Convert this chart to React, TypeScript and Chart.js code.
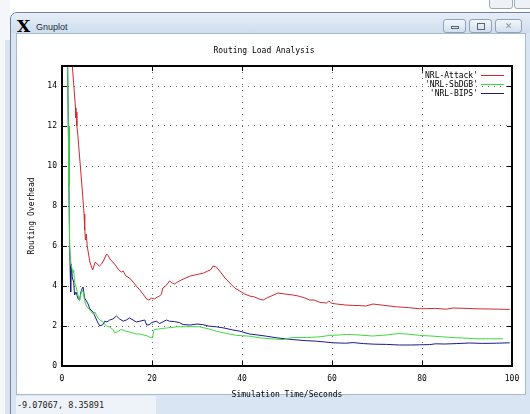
import React, { useEffect, useRef } from 'react';
import { Chart, registerables } from 'chart.js';

Chart.register(...registerables);

const MONO = "'DejaVu Sans Mono', monospace";

const chartTitle = 'Routing Load Analysis';
const xAxisTitle = 'Simulation Time/Seconds';
const yAxisTitle = 'Routing Overhead';
const statusText = '-9.07067, 8.35891';

const xTicks = [0, 20, 40, 60, 80, 100];
const yTicks = [0, 2, 4, 6, 8, 10, 12, 14];

const seriesLabels = ["'NRL-Attack'", "'NRL-SbDGB'", "'NRL-BIPS'"];
const seriesColors = ['#cc2a2e', '#40d840', '#1a1a8c'];

const attackX = [1.8, 2.3, 2.8, 3.0, 3.1, 3.2, 3.3, 3.5, 4.0, 4.5, 4.9, 5.0, 5.1, 5.2, 5.4, 5.6, 5.9, 6.2, 6.5, 6.8, 7.1, 7.4, 7.8, 8.3, 8.8, 9.3, 9.9, 10.3, 10.8, 11.3, 12.0, 12.6, 13.2, 13.6, 14.2, 15.0, 15.8, 16.5, 17.3, 18.0, 18.8, 19.3, 19.9, 20.5, 21.2, 21.7, 22.1, 22.4, 22.8, 23.4, 23.9, 24.5, 25.0, 25.7, 26.5, 27.5, 28.5, 29.5, 30.5, 31.5, 32.4, 33.0, 33.6, 34.3, 35.2, 36.2, 37.3, 38.4, 39.5, 40.6, 41.7, 42.8, 43.8, 44.7, 45.5, 46.5, 48.0, 49.5, 51.3, 52.5, 54.0, 55.0, 56.0, 57.3, 58.8, 59.3, 60.0, 61.0, 63.0, 64.7, 66.0, 67.5, 69.1, 72.0, 74.3, 77.0, 79.5, 81.0, 83.0, 85.4, 86.9, 90.0, 92.0, 95.0, 97.0, 99.5];
const attackY = [16.8, 15.0, 13.5, 12.9, 12.4, 12.7, 12.0, 11.6, 10.2, 8.8, 7.6, 6.8, 6.9, 6.3, 6.6, 6.0, 5.6, 5.2, 5.0, 4.8, 5.0, 5.2, 5.1, 5.0, 5.1, 5.3, 5.6, 5.5, 5.3, 5.2, 5.0, 4.8, 4.7, 4.75, 4.5, 4.4, 4.2, 4.0, 3.8, 3.6, 3.35, 3.3, 3.4, 3.35, 3.45, 3.5, 3.6, 3.9, 3.95, 4.1, 4.25, 4.15, 4.1, 4.2, 4.3, 4.4, 4.5, 4.55, 4.6, 4.65, 4.75, 4.8, 5.0, 4.95, 4.7, 4.4, 4.15, 3.9, 3.75, 3.6, 3.5, 3.45, 3.35, 3.3, 3.4, 3.5, 3.65, 3.6, 3.55, 3.5, 3.4, 3.3, 3.3, 3.18, 3.15, 3.25, 3.13, 3.1, 3.05, 3.03, 3.02, 3.0, 3.1, 3.02, 2.96, 2.92, 2.86, 2.87, 2.88, 2.84, 2.9, 2.88, 2.86, 2.85, 2.84, 2.83];

const sbdgbX = [1.2, 1.4, 1.55, 1.7, 1.9, 2.1, 2.4, 2.6, 2.8, 3.2, 3.6, 3.9, 4.2, 4.5, 4.7, 5.0, 5.4, 6.0, 6.9, 7.3, 8.0, 8.4, 9.1, 9.9, 10.6, 11.3, 11.7, 12.4, 13.1, 14.1, 15.0, 15.8, 16.5, 17.3, 18.0, 19.0, 19.5, 20.1, 20.4, 20.6, 21.5, 22.4, 23.2, 24.1, 25.5, 26.9, 28.5, 30.6, 32.5, 34.3, 36.5, 38.8, 41.7, 43.9, 46.5, 49.1, 50.6, 52.0, 54.3, 56.5, 57.3, 59.5, 61.5, 63.2, 66.0, 69.0, 72.0, 74.7, 76.5, 79.5, 82.0, 86.9, 90.0, 92.0, 95.0, 98.0];
const sbdgbY = [16.0, 12.0, 9.0, 6.0, 5.3, 5.0, 4.65, 4.8, 4.2, 3.9, 3.5, 3.25, 3.6, 3.8, 3.7, 3.3, 3.0, 2.85, 2.6, 2.7, 2.4, 2.3, 2.2, 2.0, 1.95, 1.83, 1.67, 1.72, 1.83, 1.75, 1.7, 1.65, 1.6, 1.6, 1.56, 1.5, 1.44, 1.4, 1.8, 1.83, 1.85, 1.88, 1.9, 1.92, 1.96, 1.96, 1.97, 1.96, 1.86, 1.74, 1.63, 1.53, 1.49, 1.41, 1.36, 1.32, 1.4, 1.43, 1.42, 1.45, 1.46, 1.53, 1.55, 1.58, 1.55, 1.5, 1.55, 1.62, 1.6, 1.53, 1.5, 1.42, 1.39, 1.36, 1.36, 1.36];

const bipsX = [1.2, 1.4, 1.55, 1.7, 1.8, 1.9, 1.95, 2.05, 2.3, 2.6, 2.8, 3.1, 3.6, 3.9, 4.2, 4.5, 4.7, 5.0, 5.3, 5.8, 6.2, 6.9, 7.3, 8.0, 8.4, 9.1, 9.5, 10.0, 10.6, 11.3, 12.1, 12.8, 13.6, 14.3, 15.0, 15.8, 16.5, 17.3, 18.4, 18.8, 19.5, 19.9, 21.0, 21.7, 23.2, 23.9, 25.0, 26.1, 26.9, 28.5, 30.0, 31.3, 32.5, 34.3, 36.0, 38.0, 39.5, 41.7, 43.5, 45.4, 48.0, 51.3, 54.0, 56.5, 58.5, 60.2, 63.0, 64.7, 67.0, 69.5, 72.1, 75.0, 77.5, 79.5, 81.7, 83.0, 85.0, 87.6, 90.6, 93.5, 96.5, 99.5];
const bipsY = [16.0, 12.0, 9.0, 5.8, 5.0, 3.9, 3.7, 5.1, 4.4, 4.2, 3.55, 3.7, 3.35, 3.3, 3.7, 3.9, 3.95, 3.4, 3.3, 3.1, 2.85, 2.7, 2.5, 2.15, 2.0, 2.07, 2.24, 2.2, 2.3, 2.35, 2.5, 2.35, 2.24, 2.3, 2.4, 2.3, 2.2, 2.24, 2.3, 2.05, 2.07, 2.17, 2.24, 2.12, 2.3, 2.24, 2.22, 2.17, 2.07, 2.05, 2.1, 2.07, 2.0, 1.96, 1.9, 1.8, 1.74, 1.6, 1.55, 1.49, 1.4, 1.32, 1.27, 1.24, 1.2, 1.16, 1.14, 1.17, 1.12, 1.09, 1.08, 1.05, 1.05, 1.06, 1.07, 1.11, 1.1, 1.12, 1.15, 1.13, 1.14, 1.16];

const toPoints = (xs: number[], ys: number[]) => xs.map((x, i) => ({ x, y: ys[i] }));

const framePlugin = {
  id: 'gnuplotFrame',
  afterDraw(chart: any) {
    const { ctx, chartArea } = chart;
    const { left, right, top, bottom } = chartArea;
    const xs = chart.scales.x;
    const ys = chart.scales.y;
    ctx.save();
    ctx.strokeStyle = '#000';
    ctx.lineWidth = 1;
    ctx.beginPath();
    xTicks.forEach((v) => {
      const px = Math.round(xs.getPixelForValue(v)) + 0.5;
      ctx.moveTo(px, bottom);
      ctx.lineTo(px, bottom - 5);
      ctx.moveTo(px, top);
      ctx.lineTo(px, top + 5);
    });
    yTicks.forEach((v) => {
      const py = Math.round(ys.getPixelForValue(v)) + 0.5;
      ctx.moveTo(left, py);
      ctx.lineTo(left + 5, py);
      ctx.moveTo(right, py);
      ctx.lineTo(right - 5, py);
    });
    ctx.stroke();
    ctx.lineWidth = 2;
    ctx.strokeRect(left, top, right - left, bottom - top);
    ctx.font = `8px ${MONO}`;
    ctx.textAlign = 'right';
    ctx.textBaseline = 'middle';
    chart.data.datasets.forEach((ds: any, i: number) => {
      const y = Math.round(top + 9 + i * 8.8) + 0.5;
      ctx.fillStyle = '#000';
      ctx.fillText(ds.label, right - 34, y);
      ctx.strokeStyle = seriesColors[i];
      ctx.lineWidth = 1;
      ctx.beginPath();
      ctx.moveTo(right - 31, y);
      ctx.lineTo(right - 8, y);
      ctx.stroke();
    });
    ctx.restore();
  },
};

function GnuplotChart() {
  const ref = useRef<HTMLCanvasElement | null>(null);
  useEffect(() => {
    if (!ref.current) return;
    const chart = new Chart(ref.current, {
      type: 'line',
      data: {
        datasets: [
          { label: seriesLabels[0], data: toPoints(attackX, attackY), borderColor: seriesColors[0] },
          { label: seriesLabels[1], data: toPoints(sbdgbX, sbdgbY), borderColor: seriesColors[1] },
          { label: seriesLabels[2], data: toPoints(bipsX, bipsY), borderColor: seriesColors[2] },
        ].map((d) => ({ ...d, borderWidth: 1, pointRadius: 0, tension: 0, fill: false })),
      },
      options: {
        animation: false,
        responsive: false,
        devicePixelRatio: 1,
        layout: { padding: { left: 16, right: 18, top: 33, bottom: 14 } },
        plugins: {
          legend: { display: false },
          tooltip: { enabled: false },
          title: {
            display: true,
            text: chartTitle,
            color: '#000',
            font: { family: MONO, size: 8, weight: 'normal' },
            padding: { top: 13, bottom: 10.4 },
          },
        },
        scales: {
          x: {
            type: 'linear',
            min: 0,
            max: 100,
            afterBuildTicks: (s: any) => { s.ticks = xTicks.map((v) => ({ value: v })); },
            afterFit: (s: any) => { s.height = 34; },
            grid: { color: '#666', lineWidth: 1, drawTicks: false },
            border: { display: false, dash: [1, 5] },
            ticks: { color: '#000', font: { family: MONO, size: 8 }, padding: 8, maxRotation: 0 },
            title: { display: true, text: xAxisTitle, color: '#000', font: { family: MONO, size: 8 }, padding: { top: 0, bottom: 0 } },
          },
          y: {
            type: 'linear',
            min: 0,
            max: 15,
            afterBuildTicks: (s: any) => { s.ticks = yTicks.map((v) => ({ value: v })); },
            afterFit: (s: any) => { s.width = 46; },
            grid: { color: '#666', lineWidth: 1, drawTicks: false },
            border: { display: false, dash: [1, 5] },
            ticks: { color: '#000', font: { family: MONO, size: 8 }, padding: 5 },
            title: { display: true, text: yAxisTitle, color: '#000', font: { family: MONO, size: 8 }, padding: { top: 11, bottom: 0 } },
          },
        },
      },
      plugins: [framePlugin],
    } as any);
    return () => chart.destroy();
  }, []);
  return <canvas ref={ref} width={530} height={414} style={{ position: 'absolute', left: 0, top: 0, display: 'block' }} />;
}

const btn: React.CSSProperties = {
  position: 'absolute',
  top: 19,
  height: 14,
  border: '1px solid #8ea2bb',
  borderRadius: 3,
  background: 'linear-gradient(#f3f7fb, #d3dfed)',
  boxSizing: 'border-box',
};

export default function App() {
  return (
    <div style={{ position: 'fixed', left: 0, top: 0, width: 530, height: 414, overflow: 'hidden', background: '#ffffff' }}>
      <div style={{ position: 'absolute', left: 0, top: 0, width: 10, height: 414, background: '#f4f6f9' }} />
      <div style={{ position: 'absolute', left: 5, top: 40, width: 5, height: 374, background: '#d9e4f0' }} />
      <div style={{ position: 'absolute', left: 489, top: -4, width: 22, height: 11, border: '1px solid #9aa9bb', borderRadius: 3, background: '#eef2f7' }} />
      <div style={{ position: 'absolute', left: 514, top: -4, width: 20, height: 11, border: '1px solid #9aa9bb', borderRadius: 3, background: '#eef2f7' }} />
      <div style={{ position: 'absolute', left: 10, top: 12, width: 530, height: 410, background: '#d9e5f2', border: '1px solid #6f839c', borderTopLeftRadius: 7, boxSizing: 'border-box' }} />
      <div style={{ position: 'absolute', left: 11, top: 13, width: 520, height: 20, borderTopLeftRadius: 6, background: 'linear-gradient(#e6eef8, #cfdded)' }} />
      <div style={{ position: 'absolute', left: 17, top: 17, width: 16, height: 18, fontFamily: "'DejaVu Serif', serif", fontWeight: 'bold', fontSize: 17, lineHeight: '18px', color: '#000' }}>X</div>
      <div style={{ position: 'absolute', left: 36, top: 21, fontFamily: "'Liberation Sans', sans-serif", fontSize: 9, lineHeight: '12px', color: '#1f2b3b' }}>Gnuplot</div>
      <div style={{ ...btn, left: 443, width: 23 }}>
        <div style={{ position: 'absolute', left: 7, top: 6, width: 8, height: 3, border: '1px solid #55657a', boxSizing: 'border-box' }} />
      </div>
      <div style={{ ...btn, left: 469, width: 23 }}>
        <div style={{ position: 'absolute', left: 7, top: 3, width: 8, height: 7, border: '1px solid #55657a', boxSizing: 'border-box' }} />
      </div>
      <div style={{ ...btn, left: 495, width: 27 }}>
        <div style={{ position: 'absolute', left: 0, top: 0, width: 25, height: 12, textAlign: 'center', fontFamily: "'DejaVu Sans', sans-serif", fontSize: 9, lineHeight: '12px', color: '#8a96a6' }}>✕</div>
      </div>
      <div style={{ position: 'absolute', left: 16, top: 33, width: 510, height: 362, background: '#ffffff', border: '1px solid #a8bbd2', boxSizing: 'border-box' }} />
      <div style={{ position: 'absolute', left: 16, top: 396, width: 140, height: 18, background: '#eef3f9' }} />
      <div style={{ position: 'absolute', left: 17, top: 400, fontFamily: MONO, fontSize: 8.5, lineHeight: '10px', color: '#222', whiteSpace: 'pre' }}>{statusText}</div>
      <GnuplotChart />
    </div>
  );
}
